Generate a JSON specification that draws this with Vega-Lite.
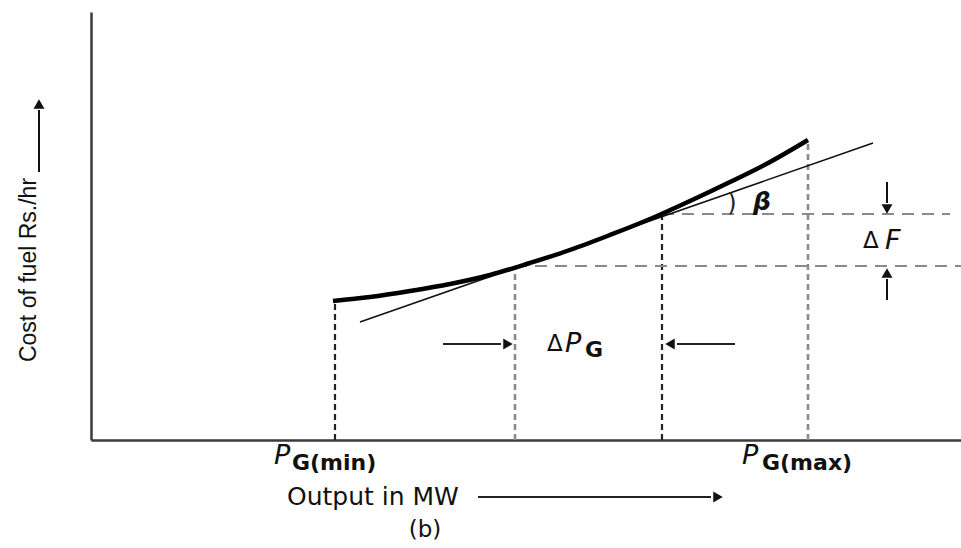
{
  "$schema": "https://vega.github.io/schema/vega-lite/v6.json",
  "width": 870,
  "height": 428,
  "autosize": {"type": "none"},
  "padding": {"left": 91, "top": 12, "right": 0, "bottom": 108},
  "background": "white",
  "config": {
    "view": {"stroke": null},
    "axis": {"domainColor": "#3a3a3a", "domainWidth": 2.5, "ticks": false, "labels": false, "grid": false, "title": null}
  },
  "datasets": {
    "curve": [
      {"x": 242, "y": 139}, {"x": 279, "y": 143}, {"x": 319, "y": 149}, {"x": 359, "y": 156},
      {"x": 399, "y": 165}, {"x": 439, "y": 177}, {"x": 479, "y": 190}, {"x": 519, "y": 205},
      {"x": 559, "y": 221}, {"x": 599, "y": 239}, {"x": 639, "y": 258}, {"x": 679, "y": 278},
      {"x": 717, "y": 300}
    ],
    "tangent": [{"x": 269, "y": 118}, {"x": 782, "y": 297}],
    "vdark": [{"x": 244, "y": 0, "y2": 139}, {"x": 571, "y": 0, "y2": 226}],
    "vgray": [{"x": 424, "y": 0, "y2": 174}, {"x": 717, "y": 0, "y2": 300}],
    "hgray": [{"x": 571, "x2": 859, "y": 226}, {"x": 424, "x2": 870, "y": 174}],
    "hshaft": [
      {"x": 352, "x2": 410, "y": 96}, {"x": 644, "x2": 586, "y": 96},
      {"x": 387, "x2": 620, "y": -57}
    ],
    "vshaft": [
      {"x": 796, "y": 258, "y2": 237}, {"x": 796, "y": 140, "y2": 161},
      {"x": -52, "y": 268, "y2": 330}
    ],
    "headRight": [{"x": 417, "y": 96}, {"x": 627, "y": -57}],
    "headLeft": [{"x": 579, "y": 96}],
    "headDown": [{"x": 796, "y": 231}],
    "headUp": [{"x": 796, "y": 167}, {"x": -52, "y": 336}],
    "regular": [
      {"label": "Δ", "x": 456, "y": 96},
      {"label": "Δ", "x": 772, "y": 199}
    ],
    "italic": [
      {"label": "P", "x": 474, "y": 96},
      {"label": "F", "x": 794, "y": 199},
      {"label": "P", "x": 183, "y": -16},
      {"label": "P", "x": 651, "y": -16}
    ],
    "sub": [
      {"label": "G", "x": 494, "y": 90},
      {"label": "G(min)", "x": 201, "y": -23},
      {"label": "G(max)", "x": 671, "y": -23}
    ],
    "beta": [{"label": "β", "x": 671, "y": 238}],
    "arc": [{"label": ")", "x": 641, "y": 236}],
    "xtitle": [{"label": "Output in MW", "x": 196, "y": -57}],
    "caption": [{"label": "(b)", "x": 334, "y": -90}],
    "ytitle": [{"label": "Cost of fuel Rs./hr", "x": -62, "y": 170}]
  },
  "encoding": {
    "x": {"field": "x", "type": "quantitative", "scale": {"domain": [0, 870], "nice": false, "zero": false}},
    "y": {"field": "y", "type": "quantitative", "scale": {"domain": [0, 428], "nice": false, "zero": false}}
  },
  "layer": [
    {
      "data": {"name": "vdark"},
      "mark": {"type": "rule", "color": "#222", "strokeWidth": 2.2, "strokeDash": [6, 4], "clip": false},
      "encoding": {"y2": {"field": "y2"}}
    },
    {
      "data": {"name": "vgray"},
      "mark": {"type": "rule", "color": "#8a8a8a", "strokeWidth": 2.6, "strokeDash": [6, 4], "clip": false},
      "encoding": {"y2": {"field": "y2"}}
    },
    {
      "data": {"name": "hgray"},
      "mark": {"type": "rule", "color": "#8a8a8a", "strokeWidth": 2, "strokeDash": [12, 8], "clip": false},
      "encoding": {"x2": {"field": "x2"}}
    },
    {
      "data": {"name": "tangent"},
      "mark": {"type": "line", "color": "#111", "strokeWidth": 1.6, "clip": false}
    },
    {
      "data": {"name": "curve"},
      "mark": {"type": "line", "color": "#000", "strokeWidth": 4.5, "interpolate": "monotone", "clip": false}
    },
    {
      "data": {"name": "hshaft"},
      "mark": {"type": "rule", "color": "#222", "strokeWidth": 1.8, "clip": false},
      "encoding": {"x2": {"field": "x2"}}
    },
    {
      "data": {"name": "vshaft"},
      "mark": {"type": "rule", "color": "#111", "strokeWidth": 2, "clip": false},
      "encoding": {"y2": {"field": "y2"}}
    },
    {
      "data": {"name": "headRight"},
      "mark": {"type": "point", "shape": "triangle-right", "filled": true, "color": "#111", "size": 120, "opacity": 1, "clip": false}
    },
    {
      "data": {"name": "headLeft"},
      "mark": {"type": "point", "shape": "triangle-left", "filled": true, "color": "#111", "size": 120, "opacity": 1, "clip": false}
    },
    {
      "data": {"name": "headDown"},
      "mark": {"type": "point", "shape": "triangle-down", "filled": true, "color": "#111", "size": 120, "opacity": 1, "clip": false}
    },
    {
      "data": {"name": "headUp"},
      "mark": {"type": "point", "shape": "triangle-up", "filled": true, "color": "#111", "size": 120, "opacity": 1, "clip": false}
    },
    {
      "data": {"name": "regular"},
      "mark": {"type": "text", "font": "DejaVu Sans", "fontSize": 23, "align": "left", "baseline": "middle", "color": "#111", "clip": false},
      "encoding": {"text": {"field": "label"}}
    },
    {
      "data": {"name": "italic"},
      "mark": {"type": "text", "font": "DejaVu Sans", "fontSize": 27, "fontStyle": "italic", "align": "left", "baseline": "middle", "color": "#111", "clip": false},
      "encoding": {"text": {"field": "label"}}
    },
    {
      "data": {"name": "sub"},
      "mark": {"type": "text", "font": "DejaVu Sans", "fontSize": 22, "fontWeight": "bold", "align": "left", "baseline": "middle", "color": "#111", "clip": false},
      "encoding": {"text": {"field": "label"}}
    },
    {
      "data": {"name": "beta"},
      "mark": {"type": "text", "font": "DejaVu Sans", "fontSize": 25, "fontStyle": "italic", "fontWeight": "bold", "align": "center", "baseline": "middle", "color": "#111", "clip": false},
      "encoding": {"text": {"field": "label"}}
    },
    {
      "data": {"name": "arc"},
      "mark": {"type": "text", "font": "DejaVu Sans", "fontSize": 24, "align": "center", "baseline": "middle", "color": "#222", "clip": false},
      "encoding": {"text": {"field": "label"}}
    },
    {
      "data": {"name": "xtitle"},
      "mark": {"type": "text", "font": "DejaVu Sans", "fontSize": 25, "align": "left", "baseline": "middle", "color": "#111", "clip": false},
      "encoding": {"text": {"field": "label"}}
    },
    {
      "data": {"name": "caption"},
      "mark": {"type": "text", "font": "DejaVu Sans", "fontSize": 23, "align": "center", "baseline": "middle", "color": "#111", "clip": false},
      "encoding": {"text": {"field": "label"}}
    },
    {
      "data": {"name": "ytitle"},
      "mark": {"type": "text", "font": "Liberation Sans", "fontSize": 23, "angle": 270, "align": "center", "baseline": "middle", "color": "#111", "clip": false},
      "encoding": {"text": {"field": "label"}}
    }
  ]
}
